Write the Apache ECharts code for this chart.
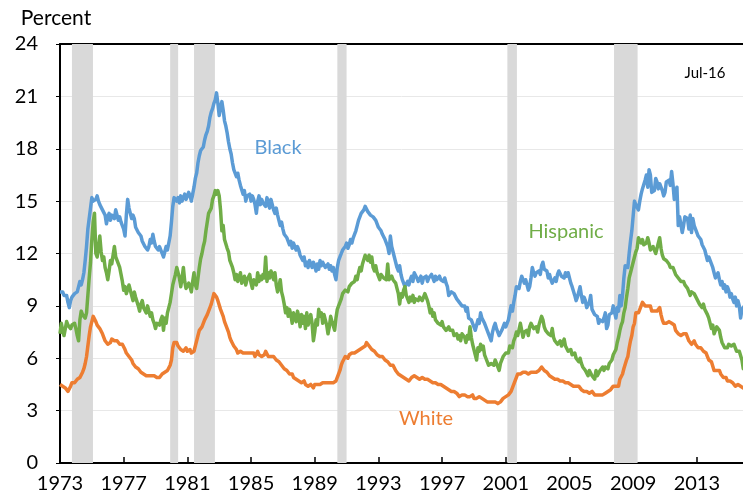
<!DOCTYPE html>
<html>
<head>
<meta charset="utf-8">
<script src="https://cdn.jsdelivr.net/npm/echarts@6/dist/echarts.min.js"></script>
<style>
  html, body { margin: 0; padding: 0; background: #fff; }
  #chart { width: 743px; height: 499px; }
</style>
</head>
<body>
<div id="chart"></div>
<script>
  //region data
  // monthly unemployment rates (%), first value sits on the 1973 tick
  const firstMonth = 1973;

  const black = [
    9.8,9.7,9.8,9.6,9.5,9.6,9.2,8.9,9.3,9.5,
    9.6,9.7,9.6,9.8,9.9,10.4,10.2,10.5,10.9,11.6,12.4,13.4,
    14.0,14.6,15.2,15.0,14.9,15.1,15.3,15.0,14.8,14.7,14.5,14.6,
    14.2,13.7,14.1,14.3,13.9,14.2,14.3,14.0,14.5,14.4,13.9,14.1,
    13.8,13.6,13.4,13.0,14.2,15.1,14.6,14.3,14.0,14.2,14.0,13.5,
    13.4,13.2,13.1,13.0,12.7,12.6,12.4,12.5,12.2,12.4,12.8,12.6,
    13.1,12.7,12.4,12.5,12.2,12.4,12.3,12.0,11.8,12.1,12.4,12.2,
    12.6,13.0,13.8,14.7,15.2,15.3,15.0,15.2,14.9,15.3,15.0,15.2,
    15.4,15.1,15.2,15.5,15.3,15.0,15.4,15.8,16.3,16.6,17.2,17.6,
    17.9,17.8,18.1,18.5,18.8,19.0,19.3,19.8,20.1,20.3,20.6,20.8,
    21.2,20.6,19.9,20.4,20.7,20.2,19.6,19.3,18.9,18.4,18.0,17.7,
    17.2,16.8,16.6,16.4,16.6,16.2,15.9,15.8,15.4,15.6,15.0,15.3,
    15.2,15.4,15.0,15.3,15.1,14.8,14.3,15.0,15.3,14.8,15.1,14.9,
    15.0,14.7,15.2,14.9,14.6,15.1,14.8,14.5,14.3,14.6,14.2,13.9,
    13.6,13.8,13.4,13.1,13.2,12.9,12.8,12.5,12.7,12.3,12.6,12.4,
    12.2,12.4,12.2,11.9,12.0,11.6,11.8,11.3,11.5,11.2,11.6,11.4,
    11.2,11.5,11.3,11.0,11.4,11.1,11.6,11.3,11.5,11.4,11.2,11.3,
    11.4,11.1,11.3,11.0,11.2,10.8,10.5,11.2,11.6,11.8,12.0,12.2,
    12.3,12.4,12.6,12.3,12.5,12.8,12.6,12.9,13.1,13.3,13.6,13.9,
    14.0,14.3,14.2,14.5,14.7,14.6,14.4,14.5,14.2,14.3,14.1,14.2,
    13.9,13.8,13.5,13.6,13.3,13.1,13.2,12.8,12.6,12.4,12.0,13.0,
    12.4,12.1,11.8,11.5,11.2,11.0,11.3,10.8,10.5,10.3,10.1,10.2,
    10.4,10.2,10.5,10.7,10.4,10.9,11.0,10.6,10.4,10.5,10.7,10.3,
    10.6,10.5,10.7,10.4,10.6,10.5,10.8,10.6,10.4,10.7,10.5,10.6,
    10.7,10.5,10.6,10.4,10.6,10.3,10.1,9.6,9.5,9.8,9.9,9.7,
    9.6,9.4,9.5,9.2,9.3,9.0,9.1,9.0,8.7,8.9,8.3,8.2,
    8.2,8.0,7.8,7.6,7.9,8.2,8.0,8.6,8.3,8.2,8.0,7.8,
    7.6,7.4,7.3,7.0,7.5,7.8,8.0,7.7,7.6,7.3,7.4,7.6,
    7.8,8.0,7.8,7.9,8.2,8.6,9.0,8.7,9.2,9.6,10.1,10.2,
    10.0,10.4,10.7,10.6,10.3,10.5,10.2,9.9,10.1,10.6,11.2,10.9,
    10.7,10.9,10.8,11.0,10.8,11.3,11.5,11.1,11.2,11.0,10.6,10.8,
    10.5,10.3,10.2,10.6,10.4,10.8,11.0,10.9,10.7,10.8,10.6,10.9,
    10.7,10.9,10.8,10.3,10.1,10.2,9.6,9.3,9.5,9.4,10.1,9.6,
    9.2,9.5,9.3,8.9,9.0,9.2,9.6,8.8,8.9,8.5,8.6,8.4,
    8.0,8.2,8.3,8.1,8.3,8.6,7.7,7.9,8.5,8.4,8.6,9.0,
    9.1,8.3,8.9,8.7,9.6,9.0,9.6,10.6,11.3,11.2,11.2,12.0,
    12.7,13.3,13.4,15.0,14.8,14.9,14.5,15.0,15.4,15.7,15.6,16.2,
    16.5,15.8,16.8,16.5,15.5,15.4,15.6,16.3,16.1,15.7,16.0,15.8,
    15.6,15.3,15.5,16.1,16.2,16.2,15.9,16.7,16.0,15.1,15.5,15.8,
    13.6,14.1,14.0,13.2,13.6,14.1,14.2,14.0,13.4,14.2,13.2,14.0,
    13.6,13.4,13.2,13.0,13.1,12.8,12.5,12.6,12.2,11.9,11.6,11.8,
    11.7,11.4,11.2,10.9,10.6,10.7,10.9,10.5,10.2,10.4,10.0,10.2,
    9.8,10.1,9.9,9.5,9.7,9.4,9.2,9.5,9.0,9.3,9.0,8.3,
    8.8,8.8,9.0,8.8,8.2,8.6,8.4
  ];

  const hispanic = [
    7.4,8.0,7.6,7.3,7.7,8.1,7.9,7.8,7.7,7.9,
    7.9,8.0,7.7,7.3,7.0,8.2,8.7,8.5,8.4,8.3,8.6,9.6,
    10.6,11.5,12.8,13.8,14.3,12.0,11.8,12.4,13.0,12.1,11.6,11.8,
    11.2,10.9,10.5,11.0,11.6,11.4,11.9,12.4,11.8,11.6,11.4,11.2,
    10.8,10.4,9.9,10.1,9.7,9.6,10.2,9.9,9.6,9.3,9.8,9.5,
    9.4,9.0,8.7,9.1,9.3,8.9,8.8,8.6,9.0,8.7,8.4,8.6,
    8.2,8.0,7.7,8.0,8.1,7.9,8.2,8.4,7.6,8.3,8.0,8.6,
    8.9,9.2,9.7,10.2,10.5,10.8,11.2,10.9,10.6,10.1,10.6,11.2,
    10.4,10.0,9.9,10.3,10.1,9.8,10.4,10.9,10.2,10.0,10.6,11.2,
    11.7,12.0,12.4,12.7,13.3,13.8,14.3,14.2,14.6,15.1,15.3,15.6,
    15.4,15.6,15.3,14.5,13.3,13.6,12.8,12.9,12.3,12.1,11.6,11.4,
    11.2,10.9,10.5,10.8,10.4,10.6,10.9,10.3,10.4,10.7,10.2,10.5,
    10.6,10.8,10.3,10.0,10.5,10.6,10.2,10.9,10.4,10.7,10.5,10.8,
    10.6,11.8,10.4,10.9,10.6,11.0,10.8,10.5,10.9,10.2,9.8,10.1,
    10.5,9.8,9.5,9.1,8.6,8.9,8.4,8.8,8.5,8.0,8.6,8.3,
    8.1,8.7,8.4,7.8,8.5,8.0,8.4,7.7,8.6,7.9,8.2,8.5,
    8.0,7.0,7.5,8.2,7.9,8.8,8.4,8.6,8.0,8.5,8.2,7.9,
    7.4,7.8,8.4,8.1,8.0,7.6,8.3,8.8,9.0,9.2,9.4,9.7,
    9.6,9.9,10.0,9.8,10.1,10.0,10.3,10.2,10.4,10.7,10.5,10.9,
    11.2,11.0,11.4,11.5,11.9,12.0,11.6,11.9,11.5,11.8,11.2,11.0,
    11.3,10.9,10.8,10.5,10.8,10.9,10.6,10.7,10.5,11.4,10.5,10.6,
    10.7,10.5,10.4,10.3,10.0,9.7,9.1,9.7,9.5,9.9,10.1,9.6,
    9.4,9.2,9.5,9.3,9.6,9.2,9.4,9.5,9.3,9.5,9.6,9.3,
    9.5,9.7,9.6,9.3,9.0,8.6,8.8,8.4,8.6,8.2,8.3,8.0,
    8.0,7.9,8.1,7.8,7.9,7.6,7.7,7.8,7.6,7.5,7.6,7.3,
    7.2,7.4,7.1,7.3,7.0,7.4,7.5,7.2,6.9,7.3,7.1,7.8,
    7.2,6.8,6.9,6.2,5.9,6.6,6.4,6.8,6.5,6.7,6.2,6.0,
    5.8,5.6,5.5,5.7,5.8,5.6,5.9,5.7,5.6,5.3,5.7,5.8,
    6.1,6.0,6.3,6.4,6.3,6.7,6.8,6.6,7.0,7.2,7.5,7.3,
    7.4,8.0,7.6,7.2,7.5,7.4,7.6,7.3,7.8,8.0,7.9,7.7,
    7.6,7.8,7.5,7.9,8.0,8.4,8.2,7.8,7.6,7.5,7.4,7.4,
    7.3,7.7,7.2,7.0,6.9,6.8,6.7,7.0,6.7,6.9,7.1,6.7,
    6.6,6.4,6.3,6.5,6.2,6.1,6.3,6.0,6.1,5.8,6.0,5.7,
    5.5,5.4,5.3,5.2,5.0,5.3,5.4,5.0,5.1,4.8,5.3,5.0,
    5.1,5.3,5.2,5.5,5.3,5.5,5.6,5.4,5.7,5.8,5.9,6.2,
    6.3,6.5,6.9,7.2,7.6,7.9,8.1,8.6,8.9,9.5,10.0,10.6,
    10.9,11.2,11.5,11.8,12.1,12.3,12.9,13.0,12.6,12.8,12.5,12.6,
    12.6,12.9,12.6,12.2,12.3,12.4,12.2,12.0,12.1,12.6,12.9,12.3,
    11.9,11.7,11.6,11.6,11.5,11.4,11.2,11.1,11.2,11.0,10.8,10.9,
    10.6,10.5,10.4,10.3,10.4,10.2,10.2,10.0,9.8,9.6,9.8,9.7,
    9.7,9.6,9.4,9.3,9.1,9.2,8.9,9.1,8.8,8.7,8.5,8.3,
    8.3,7.7,7.9,7.4,7.6,7.8,7.7,7.6,7.2,6.9,6.8,6.6,
    6.7,6.6,6.8,6.9,6.7,6.6,6.8,6.6,6.4,6.3,6.4,6.3,
    5.9,5.4,5.6,6.1,5.6,5.8,5.4
  ];

  const white = [
    4.5,4.4,4.4,4.3,4.3,4.2,4.1,4.1,4.4,4.6,
    4.6,4.6,4.7,4.8,4.8,4.9,5.0,5.2,5.4,5.7,6.1,6.7,
    7.3,7.8,8.1,8.4,8.3,8.1,7.9,7.8,7.7,7.6,7.4,7.3,
    7.0,6.9,6.8,6.8,6.9,7.1,7.1,7.0,7.1,7.0,6.9,6.8,
    6.8,6.8,6.7,6.5,6.3,6.2,6.1,6.0,5.9,5.7,5.6,5.5,
    5.5,5.4,5.3,5.2,5.2,5.1,5.2,5.0,5.1,5.0,5.1,5.0,
    5.0,5.0,4.9,4.9,4.8,4.9,5.0,5.1,5.1,5.2,5.2,5.3,
    5.4,5.6,5.9,6.6,6.9,6.8,6.9,6.7,6.6,6.5,6.6,6.4,
    6.5,6.6,6.4,6.5,6.5,6.3,6.3,6.4,6.7,7.0,7.3,7.6,
    7.7,7.8,8.0,8.2,8.3,8.5,8.7,8.8,9.1,9.4,9.7,9.6,
    9.5,9.3,9.2,8.8,8.6,8.4,8.1,7.9,7.7,7.5,7.2,7.0,
    6.9,6.7,6.6,6.5,6.3,6.2,6.4,6.3,6.3,6.2,6.3,6.2,
    6.3,6.2,6.3,6.2,6.3,6.1,6.2,6.4,6.2,6.1,6.1,6.0,
    6.2,6.4,6.3,6.1,6.2,6.1,6.0,6.1,6.0,5.9,5.9,5.8,
    5.7,5.6,5.5,5.4,5.3,5.3,5.2,5.1,5.0,5.1,4.9,4.9,
    4.8,4.8,4.7,4.7,4.6,4.6,4.7,4.5,4.6,4.4,4.3,4.5,
    4.4,4.3,4.5,4.5,4.5,4.6,4.5,4.6,4.6,4.5,4.6,4.6,
    4.6,4.5,4.6,4.6,4.6,4.5,4.7,4.9,5.1,5.3,5.6,5.8,
    5.9,6.1,6.1,6.0,6.2,6.2,6.3,6.2,6.3,6.4,6.4,6.5,
    6.5,6.6,6.6,6.7,6.7,6.9,6.8,6.7,6.6,6.5,6.4,6.4,
    6.3,6.2,6.2,6.1,6.1,6.1,6.0,5.9,5.8,5.8,5.7,5.6,
    5.6,5.6,5.5,5.3,5.2,5.1,5.1,5.0,4.9,4.9,4.8,4.8,
    4.8,4.7,4.8,4.9,5.0,5.0,5.0,4.9,4.9,4.8,4.9,4.9,
    4.9,4.8,4.8,4.8,4.8,4.7,4.7,4.6,4.6,4.6,4.6,4.5,
    4.5,4.5,4.4,4.4,4.3,4.3,4.3,4.2,4.2,4.1,4.1,4.1,
    4.0,4.0,4.0,3.8,3.9,3.9,3.9,3.9,3.9,3.8,3.8,3.8,
    3.8,3.9,3.7,3.8,3.7,3.7,3.8,3.7,3.7,3.6,3.6,3.6,
    3.5,3.6,3.5,3.4,3.5,3.5,3.5,3.5,3.4,3.5,3.5,3.5,
    3.7,3.7,3.8,3.9,3.9,4.0,4.1,4.3,4.4,4.7,4.9,5.1,
    5.1,5.1,5.2,5.2,5.1,5.2,5.1,5.1,5.1,5.2,5.2,5.2,
    5.1,5.2,5.2,5.3,5.4,5.5,5.4,5.3,5.3,5.2,5.1,5.0,
    5.0,4.9,4.9,4.8,4.8,4.8,4.7,4.7,4.7,4.7,4.7,4.6,
    4.6,4.6,4.6,4.5,4.5,4.4,4.4,4.4,4.3,4.4,4.4,4.2,
    4.1,4.1,4.1,4.1,4.1,4.0,4.1,4.1,4.0,3.9,4.0,3.9,
    4.0,3.9,3.8,3.9,3.9,4.0,4.1,4.1,4.2,4.2,4.2,4.4,
    4.4,4.4,4.5,4.4,4.8,4.9,5.1,5.4,5.4,5.9,6.1,6.6,
    7.0,7.3,7.8,8.0,8.6,8.6,8.6,8.8,8.9,9.2,9.1,9.0,
    9.1,9.0,8.9,9.0,8.7,8.7,8.7,8.6,8.7,8.7,8.9,8.5,
    8.2,8.0,7.9,8.0,8.0,8.1,8.0,8.0,8.0,7.9,7.6,7.5,
    7.4,7.3,7.3,7.4,7.4,7.4,7.4,7.2,7.0,7.0,6.8,6.9,
    7.0,6.8,6.7,6.6,6.7,6.6,6.5,6.4,6.3,6.3,6.1,5.9,
    5.8,5.8,5.8,5.3,5.4,5.3,5.3,5.3,5.1,5.0,4.9,4.8,
    4.9,4.7,4.7,4.7,4.7,4.6,4.6,4.4,4.4,4.5,4.4,4.4,
    4.4,4.3,4.4,4.4,4.3,4.4,4.3
  ];

  // shaded recessions [start, end] on the year scale
  const recessions = [
    [1973.75, 1975.07],
    [1979.92, 1980.42],
    [1981.42, 1982.73],
    [1990.42, 1991.0],
    [2001.1, 2001.7],
    [2007.8, 2009.28]
  ];

  // axis ranges
  const xMin = 1973, xMax = 2015.9, xStep = 4;
  const yMin = 0, yMax = 24, yStep = 3;
  //endregion


  //region chart
  const font = 'Lato, "Liberation Sans", sans-serif';
  const chart = echarts.init(document.getElementById('chart'));

  let toPoints = (arr) => arr.map((v, i) => [firstMonth + i / 12, v]);

  let lineSeries = (name, arr, color) => ({
    name: name,
    type: 'line',
    data: toPoints(arr),
    showSymbol: false,
    symbol: 'none',
    z: 3,
    lineStyle: {width: 3.5, color: color, join: 'round'},
    itemStyle: {color: color},
  });

  let option = {
    animation: false,
    textStyle: {fontFamily: font},
    grid: {left: 60, right: 0, top: 44, bottom: 36},
    xAxis: [
      {
        type: 'value',
        min: xMin,
        max: xMax,
        interval: xStep,
        axisLine: {lineStyle: {color: '#000', width: 2}},
        axisTick: {inside: true, length: 6, lineStyle: {color: '#000', width: 1.5}},
        axisLabel: {
          color: '#000',
          fontSize: 20,
          margin: 11,
          showMaxLabel: false,
          formatter: (v) => ((v - xMin) % xStep === 0 ? String(v) : ''),
        },
        splitLine: {show: false},
      },
      {//top frame line
        type: 'value',
        position: 'top',
        min: xMin,
        max: xMax,
        axisLine: {show: true, lineStyle: {color: '#000', width: 2}},
        axisTick: {show: false},
        axisLabel: {show: false},
        splitLine: {show: false},
      }
    ],
    yAxis: {
      type: 'value',
      min: yMin,
      max: yMax,
      interval: yStep,
      axisLine: {show: true, lineStyle: {color: '#000', width: 2}},
      axisTick: {show: true, length: 4, lineStyle: {color: '#000'}},
      axisLabel: {color: '#000', fontSize: 20, margin: 22},
      splitLine: {lineStyle: {color: '#e8e8e8', width: 1}},
    },
    graphic: [
      {type: 'text', x: 56, y: 18, style: {text: 'Percent', font: '21px ' + font, fill: '#000', align: 'center', verticalAlign: 'middle'}},
      {type: 'text', x: 705, y: 73, style: {text: 'Jul-16', font: '15px ' + font, fill: '#000', align: 'center', verticalAlign: 'middle'}},
      {type: 'text', x: 278, y: 148, z: 10, style: {text: 'Black', font: '20px ' + font, fill: '#5b9bd5', align: 'center', verticalAlign: 'middle'}},
      {type: 'text', x: 566, y: 232, z: 10, style: {text: 'Hispanic', font: '20px ' + font, fill: '#70ad47', align: 'center', verticalAlign: 'middle'}},
      {type: 'text', x: 426, y: 419, z: 10, style: {text: 'White', font: '20px ' + font, fill: '#ed7d31', align: 'center', verticalAlign: 'middle'}},
    ],
    series: [
      {
        name: 'Recession',
        type: 'line',
        data: [],
        z: 1,
        silent: true,
        markArea: {
          silent: true,
          itemStyle: {color: '#d9d9d9'},
          data: recessions.map((r) => [{xAxis: r[0]}, {xAxis: r[1]}]),
        },
      },
      lineSeries('Black', black, '#5b9bd5'),
      lineSeries('Hispanic', hispanic, '#70ad47'),
      lineSeries('White', white, '#ed7d31'),
    ]
  };

  chart.setOption(option);
  //endregion
</script>
</body>
</html>
